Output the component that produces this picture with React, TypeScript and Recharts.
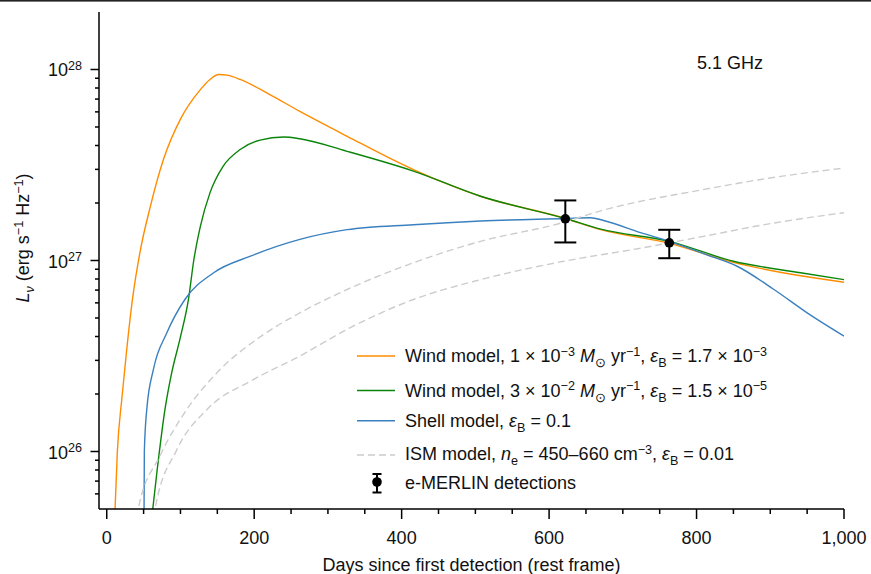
import React from 'react'
import { ComposedChart, Line, Scatter, ErrorBar, XAxis, YAxis } from 'recharts'

// luminosity in erg s^-1 Hz^-1, time in days (rest frame)
const windLowDays = [10, 11.3, 14.4, 20.3, 27, 35, 45, 59, 77, 100, 127, 140, 152, 165, 181, 217, 262, 326, 416, 507, 622, 670, 763, 850, 941, 1000]
const windLowLum = [3.55e25, 5.01e25, 1.0e26, 1.86e26, 3.39e26, 6.31e26, 1.1e27, 1.91e27, 3.39e27, 5.5e27, 7.85e27, 8.87e27, 9.42e27, 9.31e27, 8.87e27, 7.55e27, 6.03e27, 4.47e27, 2.99e27, 2.17e27, 1.66e27, 1.45e27, 1.23e27, 9.77e26, 8.32e26, 7.69e26]

const windHighDays = [61, 68, 79, 88, 100, 111, 118, 127, 140, 158, 181, 208, 240, 262, 326, 416, 507, 622, 670, 763, 850, 941, 1000]
const windHighLum = [4.47e25, 7.76e25, 1.66e26, 2.57e26, 3.98e26, 6.31e26, 1.0e27, 1.51e27, 2.26e27, 3.12e27, 3.81e27, 4.27e27, 4.43e27, 4.34e27, 3.73e27, 2.94e27, 2.17e27, 1.66e27, 1.46e27, 1.26e27, 9.91e26, 8.63e26, 7.94e26]

const shellDays = [50.5, 51, 54.3, 63.3, 81.4, 106, 145, 195, 262, 326, 416, 507, 622, 656, 674, 724, 763, 814, 855, 905, 950, 1000]
const shellLum = [3.98e25, 1.0e26, 1.66e26, 2.69e26, 4.17e26, 6.25e26, 8.63e26, 1.054e27, 1.29e27, 1.45e27, 1.54e27, 1.61e27, 1.66e27, 1.675e27, 1.62e27, 1.4e27, 1.26e27, 1.07e27, 9.33e26, 7.05e26, 5.32e26, 4.02e26]

const ismHighDays = [41, 42.8, 72, 108.6, 149, 208, 262, 326, 416, 507, 616, 670, 806, 896, 1000]
const ismHighLum = [3.98e25, 5.01e25, 9.46e25, 1.66e26, 2.57e26, 3.98e26, 5.32e26, 7.05e26, 9.73e26, 1.26e27, 1.57e27, 1.82e27, 2.34e27, 2.69e27, 3.05e27]

const ismLowDays = [63, 65.6, 95, 136, 199, 262, 326, 416, 507, 620, 724, 806, 896, 1000]
const ismLowLum = [3.98e25, 5.01e25, 1.02e26, 1.66e26, 2.38e26, 3.16e26, 4.36e26, 6.25e26, 7.94e26, 9.91e26, 1.16e27, 1.33e27, 1.55e27, 1.78e27]

const detDays = [622, 763]
const detLum = [1.653e27, 1.238e27]
const detErr = [0.41e27, 0.21e27]

const xTicks = [0, 50, 100, 150, 200, 250, 300, 350, 400, 450, 500, 550, 600, 650, 700, 750, 800, 850, 900, 950, 1000]
const decades = [1e25, 1e26, 1e27, 1e28]
const minorMult = [2, 3, 4, 5, 6, 7, 8, 9]

const FONT = '"Liberation Sans", Arial, Helvetica, sans-serif'
const ORANGE = '#ff8c00'
const GREEN = '#0a850a'
const BLUE = '#3a80c0'
const GREY = '#cccccc'

const toRows = (days: number[], lum: number[]) => days.map((d, i) => ({ day: d, lum: lum[i] }))

const yTicks = decades
  .flatMap(d => [d, ...minorMult.map(m => m * d)])
  .filter(v => v >= 5.5e25 && v <= 1.5e28)

const fmtX = (v: number) => String(v).replace(/\B(?=(\d{3})+(?!\d))/g, ',')

type Seg = { t: string; sup?: boolean; sub?: boolean; it?: boolean }

// builds tspans with matplotlib-ish super/subscripts
function rich(segs: Seg[], size = 18) {
  let cur = 0
  return segs.map((s, i) => {
    const target = s.sup ? -6.5 : s.sub ? 5 : 0
    const dy = target - cur
    cur = target
    return (
      <tspan key={i} dy={dy} fontSize={s.sup || s.sub ? size * 0.7 : size} fontStyle={s.it ? 'italic' : 'normal'}>
        {s.t}
      </tspan>
    )
  })
}

const XTick = (props: any) => {
  const { x, y, payload } = props
  const v = payload.value
  const major = v % 200 === 0
  return (
    <g>
      <line x1={x} x2={x} y1={y} y2={y + (major ? 10 : 5)} stroke="#000" strokeWidth={1.5} />
      {major && (
        <text x={x} y={y + 35} textAnchor="middle" fontSize={18} fontFamily={FONT} fill="#111">
          {fmtX(v)}
        </text>
      )}
    </g>
  )
}

const YTick = (props: any) => {
  const { x, y, payload } = props
  const lg = Math.log10(payload.value)
  const major = Math.abs(lg - Math.round(lg)) < 1e-6
  return (
    <g>
      <line x1={x - (major ? 8.5 : 4)} x2={x} y1={y} y2={y} stroke="#000" strokeWidth={1.5} />
      {major && (
        <text x={x - 17} y={y + 7} textAnchor="end" fontFamily={FONT} fill="#111" style={{ whiteSpace: 'pre' }}>
          {rich([{ t: '10' }, { t: String(Math.round(lg)), sup: true }])}
        </text>
      )}
    </g>
  )
}

const Dot = (props: any) => <circle cx={props.cx} cy={props.cy} r={4.8} fill="#000" />

const legendRows: { color: string; dash?: string; y: number; base: number; segs: Seg[] }[] = [
  {
    color: ORANGE, y: 356, base: 362.3,
    segs: [{ t: 'Wind model, 1 × 10' }, { t: '−3', sup: true }, { t: ' ' }, { t: 'M', it: true }, { t: '⊙', sub: true }, { t: ' yr' }, { t: '−1', sup: true }, { t: ', ' }, { t: 'ε', it: true }, { t: 'B', sub: true }, { t: ' = 1.7 × 10' }, { t: '−3', sup: true }],
  },
  {
    color: GREEN, y: 390.5, base: 396.7,
    segs: [{ t: 'Wind model, 3 × 10' }, { t: '−2', sup: true }, { t: ' ' }, { t: 'M', it: true }, { t: '⊙', sub: true }, { t: ' yr' }, { t: '−1', sup: true }, { t: ', ' }, { t: 'ε', it: true }, { t: 'B', sub: true }, { t: ' = 1.5 × 10' }, { t: '−5', sup: true }],
  },
  {
    color: BLUE, y: 420.7, base: 427,
    segs: [{ t: 'Shell model, ' }, { t: 'ε', it: true }, { t: 'B', sub: true }, { t: ' = 0.1' }],
  },
  {
    color: GREY, dash: '7 4', y: 455, base: 460,
    segs: [{ t: 'ISM model, ' }, { t: 'n', it: true }, { t: 'e', sub: true }, { t: ' = 450–660 cm' }, { t: '−3', sup: true }, { t: ', ' }, { t: 'ε', it: true }, { t: 'B', sub: true }, { t: ' = 0.01' }],
  },
]

export default function App() {
  const detections = detDays.map((d, i) => ({ day: d, lum: detLum[i], err: detErr[i] }))

  return (
    <div style={{ position: 'absolute', left: 0, top: 0, width: 871, height: 574, background: '#fff', fontFamily: FONT }}>
      <ComposedChart width={871} height={574} margin={{ top: 12, right: 27, bottom: 0, left: 0 }}>
        <XAxis
          type="number"
          dataKey="day"
          domain={[-10.5, 1000]}
          ticks={xTicks}
          interval={0}
          allowDataOverflow
          height={65}
          tickSize={0}
          tickMargin={0}
          tickLine={false}
          tick={<XTick />}
          axisLine={{ stroke: '#000', strokeWidth: 1.5 }}
        />
        <YAxis
          type="number"
          scale="log"
          domain={[5e25, 2e28]}
          ticks={yTicks}
          interval={0}
          allowDataOverflow
          width={99}
          tickSize={0}
          tickMargin={0}
          tickLine={false}
          tick={<YTick />}
          axisLine={{ stroke: '#000', strokeWidth: 1.5 }}
        />
        <Line data={toRows(windLowDays, windLowLum)} dataKey="lum" type="monotone" stroke={ORANGE} strokeWidth={1.4} dot={false} isAnimationActive={false} />
        <Line data={toRows(windHighDays, windHighLum)} dataKey="lum" type="monotone" stroke={GREEN} strokeWidth={1.4} dot={false} isAnimationActive={false} />
        <Line data={toRows(shellDays, shellLum)} dataKey="lum" type="monotone" stroke={BLUE} strokeWidth={1.4} dot={false} isAnimationActive={false} />
        <Line data={toRows(ismHighDays, ismHighLum)} dataKey="lum" type="monotone" stroke={GREY} strokeWidth={1.4} strokeDasharray="7 4" dot={false} isAnimationActive={false} />
        <Line data={toRows(ismLowDays, ismLowLum)} dataKey="lum" type="monotone" stroke={GREY} strokeWidth={1.4} strokeDasharray="7 4" dot={false} isAnimationActive={false} />
        <Scatter data={detections} dataKey="lum" shape={<Dot />} isAnimationActive={false}>
          <ErrorBar dataKey="err" direction="y" width={11} stroke="#000" strokeWidth={2} isAnimationActive={false} />
        </Scatter>
      </ComposedChart>

      <svg width={871} height={574} style={{ position: 'absolute', left: 0, top: 0, pointerEvents: 'none' }} fontFamily={FONT}>
        <rect x={0} y={0} width={871} height={1.6} fill="#222" />
        <text x={697} y={69.3} fontSize={18} fill="#111">5.1 GHz</text>
        <text x={471.5} y={571} fontSize={18} textAnchor="middle" fill="#111">Days since first detection (rest frame)</text>
        <text transform="translate(29,238) rotate(-90)" textAnchor="middle" fill="#111" style={{ whiteSpace: 'pre' }}>
          {rich([{ t: 'L', it: true }, { t: 'ν', sub: true, it: true }, { t: ' (erg s' }, { t: '−1', sup: true }, { t: ' Hz' }, { t: '−1', sup: true }, { t: ')' }])}
        </text>

        {legendRows.map((r, i) => (
          <g key={i}>
            <line x1={357} x2={395} y1={r.y} y2={r.y} stroke={r.color} strokeWidth={1.6} strokeDasharray={r.dash} />
            <text x={405} y={r.base} fill="#111" style={{ whiteSpace: 'pre' }}>{rich(r.segs)}</text>
          </g>
        ))}
        <line x1={377} x2={377} y1={474} y2={492.5} stroke="#000" strokeWidth={2} />
        <line x1={372.5} x2={381.5} y1={474} y2={474} stroke="#000" strokeWidth={2} />
        <line x1={372.5} x2={381.5} y1={492.5} y2={492.5} stroke="#000" strokeWidth={2} />
        <circle cx={377} cy={482} r={4.8} fill="#000" />
        <text x={405} y={489.3} fontSize={18} fill="#111">e-MERLIN detections</text>
      </svg>
    </div>
  )
}
